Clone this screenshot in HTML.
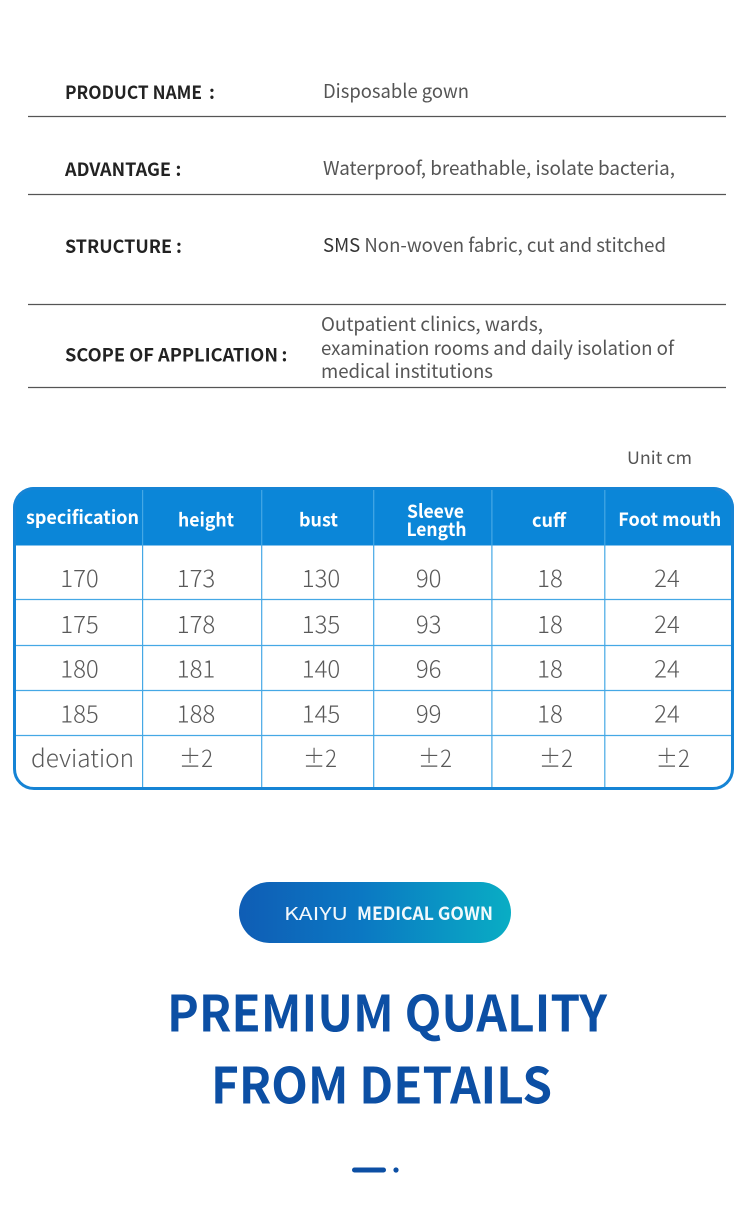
<!DOCTYPE html>
<html>
<head>
<meta charset="utf-8">
<style>
  html, body { margin: 0; padding: 0; background: #ffffff; }
  body { width: 750px; height: 1208px; overflow: hidden; }
  svg { display: block; }
  text { font-family: "Noto Sans CJK SC", "Liberation Sans", sans-serif; }
  .lbl { font-size: 18px; font-weight: 700; fill: #222222; }
  .val { font-size: 19px; font-weight: 400; fill: #555555; }
  .hd { font-size: 18.5px; font-weight: 700; fill: #ffffff; }
  .cell { font-size: 24px; font-weight: 300; fill: #595959; }
</style>
</head>
<body>
<svg width="750" height="1208" viewBox="0 0 750 1208" xmlns="http://www.w3.org/2000/svg">
  <defs>
    <clipPath id="tblclip">
      <rect x="13" y="487" width="721" height="303" rx="21" ry="21"/>
    </clipPath>
    <linearGradient id="pill" x1="0" y1="0" x2="1" y2="0">
      <stop offset="0" stop-color="#0f5db5"/>
      <stop offset="0.45" stop-color="#0b78c3"/>
      <stop offset="1" stop-color="#09adc4"/>
    </linearGradient>
  </defs>

  <!-- Top info section -->
  <text class="lbl" x="65" y="99" textLength="137" lengthAdjust="spacingAndGlyphs">PRODUCT NAME</text>
  <text class="lbl" x="209" y="99">:</text>
  <text class="val" x="323" y="98" textLength="146" lengthAdjust="spacingAndGlyphs">Disposable gown</text>
  <line x1="28" y1="116.5" x2="726" y2="116.5" stroke="#555" stroke-width="1.2"/>

  <text class="lbl" x="65" y="176" textLength="106" lengthAdjust="spacingAndGlyphs">ADVANTAGE</text>
  <text class="lbl" x="175.5" y="176">:</text>
  <text class="val" x="323" y="175" textLength="352" lengthAdjust="spacingAndGlyphs">Waterproof, breathable, isolate bacteria,</text>
  <line x1="28" y1="194.5" x2="726" y2="194.5" stroke="#555" stroke-width="1.2"/>

  <text class="lbl" x="65" y="253" textLength="107" lengthAdjust="spacingAndGlyphs">STRUCTURE</text>
  <text class="lbl" x="176" y="253">:</text>
  <text class="val" x="323" y="252" textLength="343" lengthAdjust="spacingAndGlyphs"><tspan fill="#333">SMS</tspan> Non-woven fabric, cut and stitched</text>
  <line x1="28" y1="304.5" x2="726" y2="304.5" stroke="#555" stroke-width="1.2"/>

  <text class="lbl" x="65" y="361.5" textLength="213" lengthAdjust="spacingAndGlyphs">SCOPE OF APPLICATION</text>
  <text class="lbl" x="281.5" y="361.5">:</text>
  <text class="val" x="321" y="331" textLength="222" lengthAdjust="spacingAndGlyphs">Outpatient clinics, wards,</text>
  <text class="val" x="321" y="355" textLength="353" lengthAdjust="spacingAndGlyphs">examination rooms and daily isolation of</text>
  <text class="val" x="321" y="378" textLength="172" lengthAdjust="spacingAndGlyphs">medical institutions</text>
  <line x1="28" y1="387.5" x2="726" y2="387.5" stroke="#555" stroke-width="1.2"/>

  <!-- Unit -->
  <text x="627" y="464" font-size="17" fill="#555" textLength="65" lengthAdjust="spacingAndGlyphs">Unit cm</text>

  <!-- Table -->
  <g clip-path="url(#tblclip)">
    <rect x="13" y="487" width="721" height="303" fill="#ffffff"/>
    <rect x="13" y="487" width="721" height="58.5" fill="#0b86d8"/>
    <g stroke="#45a8e5" stroke-width="1.2">
      <line x1="13" y1="599.5" x2="734" y2="599.5"/>
      <line x1="13" y1="645.5" x2="734" y2="645.5"/>
      <line x1="13" y1="690.5" x2="734" y2="690.5"/>
      <line x1="13" y1="735.5" x2="734" y2="735.5"/>
    </g>
    <g stroke="#45a8e5" stroke-width="1.2">
      <line x1="142.6" y1="487" x2="142.6" y2="790"/>
      <line x1="261.7" y1="487" x2="261.7" y2="790"/>
      <line x1="373.7" y1="487" x2="373.7" y2="790"/>
      <line x1="491.9" y1="487" x2="491.9" y2="790"/>
      <line x1="604.8" y1="487" x2="604.8" y2="790"/>
    </g>
  </g>
  <rect x="14.5" y="488.5" width="718" height="300" rx="19.5" ry="19.5" fill="none" stroke="#1684d5" stroke-width="3"/>

  <!-- Header text -->
  <text class="hd" x="82.5" y="524" text-anchor="middle" textLength="113" lengthAdjust="spacingAndGlyphs">specification</text>
  <text class="hd" x="206" y="526.5" text-anchor="middle" textLength="56" lengthAdjust="spacingAndGlyphs">height</text>
  <text class="hd" x="318.5" y="526.5" text-anchor="middle" textLength="39" lengthAdjust="spacingAndGlyphs">bust</text>
  <text class="hd" x="435.5" y="518" text-anchor="middle" textLength="57" lengthAdjust="spacingAndGlyphs">Sleeve</text>
  <text class="hd" x="436.5" y="536" text-anchor="middle" textLength="60" lengthAdjust="spacingAndGlyphs">Length</text>
  <text class="hd" x="549" y="527" text-anchor="middle" textLength="34" lengthAdjust="spacingAndGlyphs">cuff</text>
  <text class="hd" x="669.8" y="526" text-anchor="middle" textLength="103" lengthAdjust="spacingAndGlyphs">Foot mouth</text>

  <!-- Data rows -->
  <g class="cells">
    <text class="cell" x="79.5" y="587" text-anchor="middle">170</text>
    <text class="cell" x="196" y="587" text-anchor="middle">173</text>
    <text class="cell" x="321" y="587" text-anchor="middle">130</text>
    <text class="cell" x="428.7" y="587" text-anchor="middle">90</text>
    <text class="cell" x="550" y="587" text-anchor="middle">18</text>
    <text class="cell" x="667" y="587" text-anchor="middle">24</text>

    <text class="cell" x="79.5" y="633" text-anchor="middle">175</text>
    <text class="cell" x="196" y="633" text-anchor="middle">178</text>
    <text class="cell" x="321" y="633" text-anchor="middle">135</text>
    <text class="cell" x="428.7" y="633" text-anchor="middle">93</text>
    <text class="cell" x="550" y="633" text-anchor="middle">18</text>
    <text class="cell" x="667" y="633" text-anchor="middle">24</text>

    <text class="cell" x="79.5" y="677.5" text-anchor="middle">180</text>
    <text class="cell" x="196" y="677.5" text-anchor="middle">181</text>
    <text class="cell" x="321" y="677.5" text-anchor="middle">140</text>
    <text class="cell" x="428.7" y="677.5" text-anchor="middle">96</text>
    <text class="cell" x="550" y="677.5" text-anchor="middle">18</text>
    <text class="cell" x="667" y="677.5" text-anchor="middle">24</text>

    <text class="cell" x="79.5" y="722.5" text-anchor="middle">185</text>
    <text class="cell" x="196" y="722.5" text-anchor="middle">188</text>
    <text class="cell" x="321" y="722.5" text-anchor="middle">145</text>
    <text class="cell" x="428.7" y="722.5" text-anchor="middle">99</text>
    <text class="cell" x="550" y="722.5" text-anchor="middle">18</text>
    <text class="cell" x="667" y="722.5" text-anchor="middle">24</text>

    <text class="cell" x="82.5" y="767" text-anchor="middle" textLength="103" lengthAdjust="spacingAndGlyphs">deviation</text>
    <text class="cell" x="196" y="767" text-anchor="middle" textLength="34" lengthAdjust="spacingAndGlyphs">±2</text>
    <text class="cell" x="320" y="767" text-anchor="middle" textLength="34" lengthAdjust="spacingAndGlyphs">±2</text>
    <text class="cell" x="435" y="767" text-anchor="middle" textLength="34" lengthAdjust="spacingAndGlyphs">±2</text>
    <text class="cell" x="556" y="767" text-anchor="middle" textLength="34" lengthAdjust="spacingAndGlyphs">±2</text>
    <text class="cell" x="672.8" y="767" text-anchor="middle" textLength="34" lengthAdjust="spacingAndGlyphs">±2</text>
  </g>

  <!-- Pill badge -->
  <rect x="239" y="882" width="272" height="61" rx="30.5" ry="30.5" fill="url(#pill)"/>
  <text x="284" y="920" font-size="18" font-weight="400" fill="#ffffff" fill-opacity="0.95" textLength="64" lengthAdjust="spacingAndGlyphs">KAIYU</text>
  <text x="357" y="920" font-size="18" font-weight="700" fill="#ffffff" fill-opacity="0.95" textLength="136" lengthAdjust="spacingAndGlyphs">MEDICAL GOWN</text>

  <!-- Title -->
  <text x="167" y="1031.5" font-size="50" font-weight="700" fill="#0c4fa4" textLength="440" lengthAdjust="spacingAndGlyphs">PREMIUM QUALITY</text>
  <text x="211" y="1103.5" font-size="50" font-weight="700" fill="#0c4fa4" textLength="341" lengthAdjust="spacingAndGlyphs">FROM DETAILS</text>

  <!-- Dash and dot -->
  <rect x="352" y="1167.5" width="34" height="5" rx="2.5" ry="2.5" fill="#0c4fa4"/>
  <circle cx="396" cy="1170" r="2.6" fill="#0c4fa4"/>
</svg>
</body>
</html>
